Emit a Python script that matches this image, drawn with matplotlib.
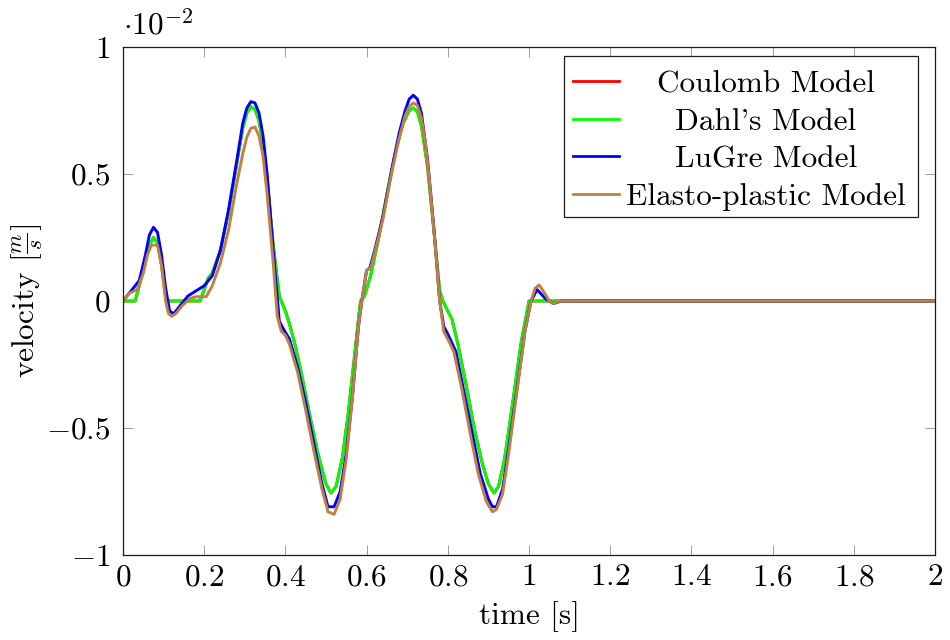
import matplotlib
matplotlib.use("Agg")
import matplotlib.pyplot as plt
from matplotlib.patches import Rectangle
from matplotlib.lines import Line2D

plt.rcParams['font.family'] = ['cmr10', 'DejaVu Serif']
plt.rcParams['mathtext.fontset'] = 'cm'
plt.rcParams['axes.formatter.use_mathtext'] = True

# ---------------- data (velocity in units of 1e-2 m/s) ----------------
dahl_t = [0, 0.03, 0.05, 0.065, 0.075, 0.085, 0.095, 0.105, 0.11, 0.19, 0.21, 0.22,
          0.24, 0.26, 0.28, 0.295, 0.305, 0.315, 0.325, 0.335, 0.345, 0.355, 0.37,
          0.385, 0.39, 0.40, 0.41, 0.425, 0.44, 0.46, 0.48, 0.50, 0.512, 0.525, 0.54,
          0.555, 0.57, 0.585, 0.595, 0.61, 0.63, 0.65, 0.67, 0.69, 0.705, 0.715, 0.725,
          0.735, 0.75, 0.765, 0.78, 0.788, 0.80, 0.81, 0.825, 0.845, 0.865, 0.885,
          0.90, 0.914, 0.925, 0.94, 0.96, 0.98, 1.0, 2.0]
dahl_v = [0, 0, 0.12, 0.22, 0.25, 0.23, 0.14, 0.02, 0, 0, 0.09, 0.11,
          0.20, 0.35, 0.54, 0.68, 0.74, 0.765, 0.755, 0.71, 0.62, 0.48, 0.22,
          0.02, 0, -0.04, -0.09, -0.18, -0.29, -0.45, -0.60, -0.72, -0.756, -0.73, -0.62,
          -0.44, -0.22, 0.0, 0.02, 0.10, 0.25, 0.42, 0.58, 0.70, 0.75, 0.76, 0.745,
          0.69, 0.53, 0.29, 0.04, 0.0, -0.04, -0.07, -0.17, -0.33, -0.50, -0.64,
          -0.72, -0.756, -0.73, -0.62, -0.40, -0.17, 0.0, 0.0]

# Coulomb curve lies exactly under the Dahl curve in the reference
coulomb_t = dahl_t
coulomb_v = dahl_v

lugre_t = [0, 0.02, 0.04, 0.055, 0.065, 0.075, 0.085, 0.095, 0.105, 0.115, 0.125,
           0.14, 0.16, 0.18, 0.20, 0.22, 0.24, 0.26, 0.28, 0.295, 0.305, 0.315, 0.325,
           0.335, 0.345, 0.355, 0.37, 0.385, 0.395, 0.41, 0.43, 0.45, 0.47, 0.49, 0.505,
           0.52, 0.535, 0.55, 0.565, 0.58, 0.59, 0.60, 0.608, 0.62, 0.64, 0.66, 0.68,
           0.695, 0.705, 0.715, 0.725, 0.735, 0.75, 0.765, 0.78, 0.79, 0.80, 0.82, 0.84,
           0.86, 0.88, 0.90, 0.91, 0.92, 0.935, 0.95, 0.97, 0.99, 1.005, 1.02, 1.04,
           1.06, 1.08, 2.0]
lugre_v = [0, 0.04, 0.08, 0.18, 0.26, 0.29, 0.27, 0.18, 0.05, -0.04, -0.05,
           -0.02, 0.02, 0.04, 0.06, 0.10, 0.20, 0.36, 0.55, 0.70, 0.76, 0.785, 0.78,
           0.74, 0.65, 0.50, 0.20, -0.08, -0.11, -0.15, -0.26, -0.40, -0.56, -0.72, -0.81,
           -0.81, -0.75, -0.60, -0.38, -0.10, 0.02, 0.12, 0.13, 0.20, 0.33, 0.50, 0.66,
           0.75, 0.795, 0.81, 0.795, 0.74, 0.56, 0.30, 0.0, -0.10, -0.13, -0.20, -0.36,
           -0.52, -0.68, -0.78, -0.81, -0.81, -0.74, -0.58, -0.35, -0.12, 0.0, 0.045, 0.01,
           -0.01, 0.0, 0.0]

elasto_t = [0, 0.015, 0.035, 0.05, 0.06, 0.07, 0.085, 0.095, 0.105, 0.112, 0.12,
            0.13, 0.145, 0.165, 0.18, 0.205, 0.22, 0.24, 0.26, 0.28, 0.295, 0.305,
            0.315, 0.325, 0.335, 0.345, 0.355, 0.37, 0.38, 0.39, 0.40, 0.41, 0.43, 0.45,
            0.47, 0.49, 0.505, 0.52, 0.535, 0.55, 0.565, 0.58, 0.59, 0.60, 0.61, 0.62,
            0.64, 0.66, 0.68, 0.695, 0.705, 0.715, 0.725, 0.735, 0.745, 0.755, 0.77,
            0.78, 0.79, 0.80, 0.815, 0.835, 0.855, 0.875, 0.895, 0.91, 0.92, 0.935, 0.95,
            0.97, 0.99, 1.005, 1.015, 1.025, 1.035, 1.05, 1.06, 1.075, 2.0]
elasto_v = [0, 0.03, 0.045, 0.11, 0.18, 0.22, 0.22, 0.14, 0.0, -0.05, -0.06,
            -0.05, -0.02, 0.01, 0.017, 0.017, 0.06, 0.15, 0.28, 0.46, 0.58, 0.645,
            0.68, 0.685, 0.65, 0.57, 0.42, 0.15, -0.06, -0.12, -0.135, -0.17, -0.28, -0.43,
            -0.59, -0.74, -0.83, -0.84, -0.78, -0.62, -0.38, -0.10, 0.02, 0.12, 0.13, 0.19,
            0.32, 0.49, 0.64, 0.73, 0.765, 0.78, 0.77, 0.72, 0.62, 0.47, 0.20,
            0.0, -0.12, -0.15, -0.20, -0.35, -0.52, -0.68, -0.79, -0.83, -0.82, -0.76, -0.60,
            -0.36, -0.12, 0.0, 0.05, 0.063, 0.04, 0.0, -0.01, 0.0, 0.0]

series_labels = ["Coulomb Model", "Dahl's Model", "LuGre Model", "Elasto-plastic Model"]
series_colors = ["#ff0000", "#00ff00", "#0000ff", "#bf8040"]

xticks = [0, 0.2, 0.4, 0.6, 0.8, 1.0, 1.2, 1.4, 1.6, 1.8, 2.0]
xticklabels = ["$0$", "$0.2$", "$0.4$", "$0.6$", "$0.8$", "$1$", "$1.2$", "$1.4$",
               "$1.6$", "$1.8$", "$2$"]
yticks = [-1, -0.5, 0, 0.5, 1]
yticklabels = ["$-1$", "$-0.5$", "$0$", "$0.5$", "$1$"]

FS = 22.5

# ---------------- figure ----------------
fig = plt.figure(figsize=(9.5, 6.4), dpi=100)
ax = fig.add_axes([123 / 950, 1 - 555 / 640, 812 / 950, 508 / 640])

data = [(coulomb_t, coulomb_v), (dahl_t, dahl_v), (lugre_t, lugre_v), (elasto_t, elasto_v)]
for (t, v), c in zip(data, series_colors):
    ax.plot(t, v, color=c, lw=2.1, solid_joinstyle='round')

ax.set_xlim(0, 2)
ax.set_ylim(-1, 1)
ax.set_xticks(xticks)
ax.set_xticklabels(xticklabels)
ax.set_yticks(yticks)
ax.set_yticklabels(yticklabels)
ax.tick_params(direction='in', length=7.5, width=0.6, color='0.55',
               top=True, right=True, labelsize=FS)
ax.tick_params(axis='x', pad=6)
ax.tick_params(axis='y', pad=9)
for s in ax.spines.values():
    s.set_linewidth(0.9)
    s.set_color('0.1')

ax.set_xlabel("time [s]", fontsize=FS, labelpad=7)
ax.set_ylabel(r"velocity $[\frac{m}{s}]$", fontsize=FS, labelpad=1)
ax.text(0.0, 1.012, r"$\cdot 10^{-2}$", transform=ax.transAxes,
        ha='left', va='bottom', fontsize=FS)

# pgfplots-style legend (centered entries)
box = Rectangle((0.543, 0.665), 0.979 - 0.543, 0.982 - 0.665, transform=ax.transAxes,
                facecolor='white', edgecolor='0.1', lw=0.9, zorder=5)
ax.add_patch(box)
rows = [0.933, 0.858, 0.785, 0.711]
for lab, c, yr in zip(series_labels, series_colors, rows):
    ax.add_line(Line2D([0.554, 0.611], [yr, yr], transform=ax.transAxes,
                       color=c, lw=2.0, zorder=6))
    ax.text(0.792, yr, lab, transform=ax.transAxes, ha='center', va='center_baseline',
            fontsize=FS, zorder=6)

fig.savefig("out.png", dpi=100)
